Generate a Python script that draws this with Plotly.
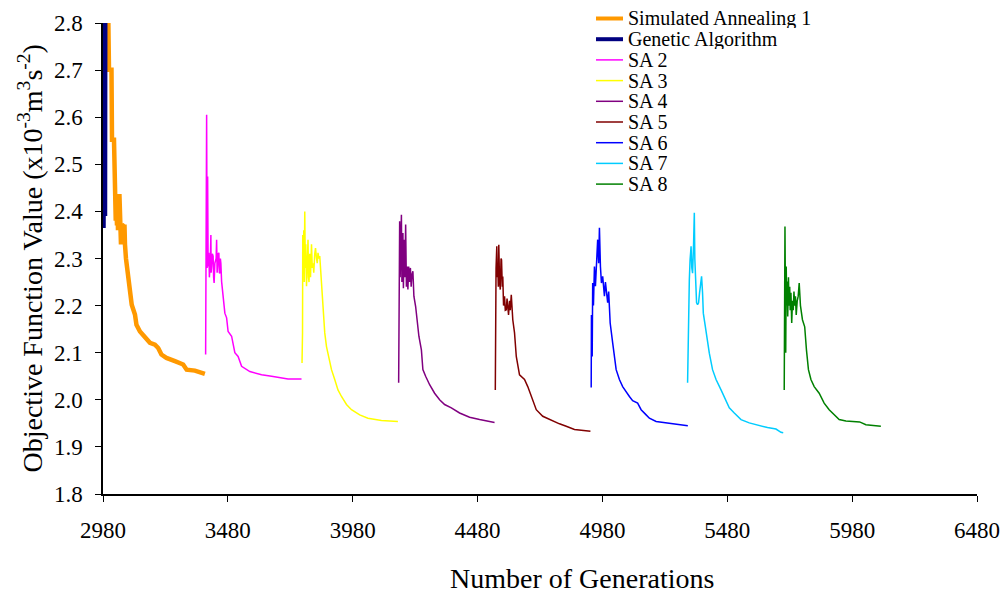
import plotly.graph_objects as go

# ---------------- data ----------------
ga_gen = [2981, 2982, 2983, 2984, 2985, 2986, 2987, 2988]
ga_val = [2.365, 2.90, 2.37, 2.90, 2.38, 2.90, 2.39, 2.85]

sa1_gen = [2999, 3003, 3004, 3014, 3016, 3024, 3026, 3028, 3029, 3031, 3033, 3036, 3038, 3040,
           3042, 3046, 3048, 3050, 3052, 3056, 3060, 3064, 3066, 3068, 3072, 3075, 3081, 3088,
           3095, 3108, 3114, 3128, 3141, 3148, 3168, 3188, 3201, 3214, 3234, 3268, 3301, 3315,
           3348, 3388]
sa1_val = [2.90, 2.80, 2.701, 2.701, 2.552, 2.552, 2.464, 2.40, 2.443, 2.38, 2.435, 2.37, 2.43, 2.36,
           2.432, 2.432, 2.36, 2.43, 2.33, 2.372, 2.37, 2.33, 2.372, 2.33, 2.30, 2.287, 2.251, 2.23,
           2.202, 2.181, 2.159, 2.145, 2.138, 2.131, 2.121, 2.117, 2.11, 2.096, 2.089, 2.082, 2.075, 2.064,
           2.062, 2.055]

sa2_gen = [3391, 3392, 3395, 3397, 3399, 3401, 3404, 3406, 3408, 3410, 3412, 3413, 3415, 3418,
           3421, 3423, 3425, 3428, 3431, 3433, 3435, 3437, 3439, 3441, 3444, 3446, 3448, 3450,
           3452, 3455, 3461, 3468, 3475, 3481, 3495, 3508, 3521, 3535, 3568, 3615, 3655, 3721, 3775]
sa2_val = [2.096, 2.305, 2.605, 2.28, 2.474, 2.283, 2.312, 2.26, 2.276, 2.30, 2.35, 2.27, 2.283, 2.31,
           2.305, 2.26, 2.248, 2.29, 2.297, 2.30, 2.34, 2.27, 2.283, 2.31, 2.312, 2.27, 2.269, 2.30,
           2.29, 2.251, 2.213, 2.184, 2.174, 2.145, 2.135, 2.10, 2.092, 2.071, 2.06, 2.053, 2.05, 2.044, 2.044]

sa3_gen = [3777, 3779, 3780, 3782, 3784, 3786, 3788, 3790, 3792, 3795, 3798, 3801, 3803, 3805,
           3808, 3811, 3815, 3818, 3821, 3824, 3828, 3831, 3835, 3838, 3841, 3845, 3848, 3855,
           3861, 3868, 3875, 3881, 3895, 3908, 3921, 3935, 3955, 3975, 4008, 4041, 4095, 4161]
sa3_val = [2.078, 2.142, 2.35, 2.27, 2.36, 2.25, 2.40, 2.28, 2.33, 2.241, 2.31, 2.34, 2.26, 2.25,
           2.31, 2.26, 2.33, 2.28, 2.29, 2.27, 2.31, 2.322, 2.30, 2.29, 2.312, 2.30, 2.305, 2.248,
           2.177, 2.142, 2.113, 2.099, 2.064, 2.043, 2.021, 2.007, 1.99, 1.979, 1.968, 1.961, 1.956, 1.954]

sa4_gen = [4164, 4166, 4168, 4170, 4172, 4175, 4177, 4179, 4181, 4183, 4186, 4189, 4192, 4195,
           4198, 4201, 4204, 4207, 4211, 4214, 4217, 4221, 4225, 4232, 4237, 4245, 4255, 4261,
           4272, 4288, 4308, 4328, 4348, 4375, 4408, 4448, 4488, 4528, 4548]
sa4_val = [2.036, 2.30, 2.379, 2.26, 2.36, 2.393, 2.25, 2.33, 2.354, 2.237, 2.34, 2.26, 2.372, 2.24,
           2.283, 2.234, 2.283, 2.25, 2.28, 2.24, 2.265, 2.273, 2.22, 2.198, 2.177, 2.135, 2.106, 2.064,
           2.05, 2.032, 2.014, 2.0, 1.99, 1.983, 1.972, 1.963, 1.958, 1.954, 1.952]

sa5_gen = [4551, 4552, 4554, 4557, 4559, 4561, 4563, 4565, 4568, 4571, 4574, 4576, 4579, 4581,
           4584, 4588, 4591, 4595, 4598, 4601, 4604, 4608, 4611, 4615, 4618, 4621, 4628, 4635,
           4648, 4668, 4681, 4695, 4705, 4715, 4741, 4768, 4808, 4835, 4868, 4932]
sa5_val = [2.021, 2.227, 2.28, 2.326, 2.26, 2.29, 2.24, 2.329, 2.25, 2.234, 2.30, 2.297, 2.24, 2.262,
           2.20, 2.22, 2.19, 2.191, 2.215, 2.20, 2.18, 2.21, 2.19, 2.223, 2.19, 2.17, 2.142, 2.092,
           2.053, 2.043, 2.028, 2.007, 1.99, 1.979, 1.965, 1.958, 1.949, 1.944, 1.937, 1.933]

sa6_gen = [4935, 4936, 4939, 4941, 4944, 4948, 4952, 4957, 4961, 4965, 4968, 4972, 4976, 4981,
           4985, 4988, 4992, 4995, 5001, 5005, 5011, 5021, 5028, 5035, 5048, 5061, 5088, 5101,
           5121, 5135, 5155, 5168, 5195, 5235, 5288, 5322]
sa6_val = [2.026, 2.18, 2.092, 2.248, 2.20, 2.283, 2.241, 2.29, 2.34, 2.29, 2.365, 2.283, 2.248, 2.262,
           2.235, 2.22, 2.25, 2.234, 2.206, 2.23, 2.163, 2.121, 2.085, 2.064, 2.043, 2.028, 2.007, 1.998,
           1.993, 1.979, 1.968, 1.961, 1.954, 1.951, 1.946, 1.945]

sa7_gen = [5321, 5323, 5328, 5331, 5335, 5338, 5341, 5345, 5348, 5350, 5352, 5357, 5361, 5365,
           5369, 5373, 5377, 5381, 5384, 5392, 5401, 5408, 5421, 5435, 5455, 5475, 5488, 5508,
           5535, 5568, 5608, 5641, 5675, 5695, 5704]
sa7_val = [2.036, 2.121, 2.255, 2.297, 2.326, 2.28, 2.269, 2.33, 2.397, 2.30, 2.269, 2.206, 2.202, 2.206,
           2.227, 2.245, 2.262, 2.227, 2.184, 2.156, 2.121, 2.099, 2.064, 2.043, 2.021, 2.0, 1.983, 1.972,
           1.958, 1.951, 1.945, 1.941, 1.938, 1.931, 1.930]

sa8_gen = [5708, 5709, 5711, 5713, 5714, 5716, 5718, 5720, 5722, 5725, 5727, 5730, 5732, 5735,
           5738, 5741, 5744, 5747, 5750, 5753, 5756, 5760, 5764, 5768, 5773, 5781, 5790, 5797,
           5805, 5815, 5828, 5848, 5868, 5888, 5908, 5928, 5955, 5990, 6010, 6035, 6095]
sa8_val = [2.021, 2.12, 2.368, 2.20, 2.10, 2.283, 2.20, 2.251, 2.177, 2.26, 2.20, 2.24, 2.19, 2.227,
           2.163, 2.21, 2.19, 2.23, 2.20, 2.22, 2.18, 2.21, 2.22, 2.248, 2.20, 2.17, 2.155, 2.106,
           2.064, 2.043, 2.028, 2.014, 1.993, 1.979, 1.968, 1.958, 1.955, 1.954, 1.953, 1.947, 1.944]

x_ticks = [2980, 3480, 3980, 4480, 4980, 5480, 5980, 6480]
y_ticks = [1.8, 1.9, 2.0, 2.1, 2.2, 2.3, 2.4, 2.5, 2.6, 2.7, 2.8]

x_title = "Number of Generations"
y_title = "Objective Function Value (x10<sup>-3</sup>m<sup>3</sup>s<sup>-2</sup>)"

# ---------------- styling ----------------
FONT = "Liberation Serif"
series = [
    ("Simulated Annealing 1", sa1_gen, sa1_val, "#FF9900", 4.5),
    ("Genetic Algorithm", ga_gen, ga_val, "#000080", 5),
    ("SA 2", sa2_gen, sa2_val, "#FF00FF", 1.5),
    ("SA 3", sa3_gen, sa3_val, "#FFFF00", 1.5),
    ("SA 4", sa4_gen, sa4_val, "#800080", 1.5),
    ("SA 5", sa5_gen, sa5_val, "#800000", 1.5),
    ("SA 6", sa6_gen, sa6_val, "#0000FF", 1.5),
    ("SA 7", sa7_gen, sa7_val, "#00CCFF", 1.5),
    ("SA 8", sa8_gen, sa8_val, "#008000", 1.5),
]
draw_order = [0, 2, 3, 4, 5, 6, 7, 8, 1]

# page body has an 8px margin, so the figure is offset by (8, 8) on screen
OFF = 8
W, H = 1000, 586
L, R, T, B = 103 - OFF, 31, 23 - OFF, 100
PW, PH = W - L - R, H - T - B

fig = go.Figure()
for i in draw_order:
    name, gx, gy, col, lw = series[i]
    fig.add_trace(go.Scatter(x=gx, y=gy, mode="lines", name=name,
                             line=dict(color=col, width=lw), showlegend=False))

# legend drawn as annotations + sample lines (tight spacing like the original)
annotations = []
shapes = []
for i, (name, gx, gy, col, lw) in enumerate(series):
    py = 18.5 + 20.7 * i            # screen y of the entry centre
    yp = 1 + (23 - py) / PH
    shapes.append(dict(type="line", xref="paper", yref="paper",
                       x0=(596 - 103) / PW, x1=(623 - 103) / PW, y0=yp, y1=yp,
                       line=dict(color=col, width=4 if lw > 2 else 1.5)))
    annotations.append(dict(text=name, xref="paper", yref="paper", x=(627 - 103) / PW, y=yp,
                            xanchor="left", yanchor="middle", showarrow=False,
                            height=20, borderpad=0,
                            font=dict(family=FONT, size=20, color="black")))

annotations.append(dict(text=x_title, xref="paper", yref="paper", x=(582 - 103) / PW, y=0,
                        yshift=-84, xanchor="center", yanchor="middle", showarrow=False,
                        font=dict(family=FONT, size=28, color="black")))
annotations.append(dict(text=y_title, xref="paper", yref="paper", x=0, xshift=-72, y=0.5,
                        xanchor="center", yanchor="middle", textangle=-90, showarrow=False,
                        font=dict(family=FONT, size=28, color="black")))

fig.update_layout(
    width=W, height=H,
    margin=dict(l=L, r=R, t=T, b=B, autoexpand=False),
    paper_bgcolor="white", plot_bgcolor="white",
    font=dict(family=FONT, size=23, color="black"),
    showlegend=False,
    annotations=annotations,
    shapes=shapes,
)
fig.update_xaxes(range=[2980, 6480], tickvals=x_ticks, ticktext=[str(v) for v in x_ticks],
                 automargin=False,
                 showgrid=False, zeroline=False, showline=True, linecolor="black", linewidth=1.5,
                 ticks="outside", ticklen=6, tickcolor="black", tickwidth=1,
                 ticklabelstandoff=9, tickfont=dict(family=FONT, size=23, color="black"))
fig.update_yaxes(range=[1.8, 2.8], tickvals=y_ticks, ticktext=[f"{v:.1f}" for v in y_ticks],
                 automargin=False,
                 showgrid=False, zeroline=False, showline=True, linecolor="black", linewidth=1.5,
                 ticks="outside", ticklen=6, tickcolor="black", tickwidth=1,
                 ticklabelstandoff=8, tickfont=dict(family=FONT, size=23, color="black"))

fig.write_html("out.html")
